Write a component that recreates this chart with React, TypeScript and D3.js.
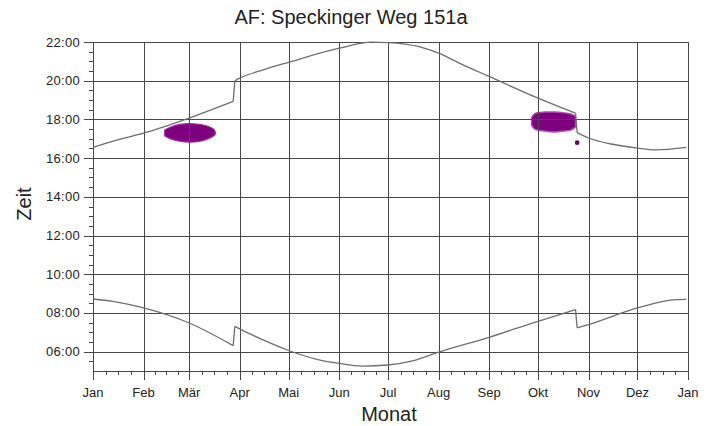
import React from "react";
import * as d3 from "d3";

const W = 713;
const H = 426;

const monthLabels = ["Jan", "Feb", "Mär", "Apr", "Mai", "Jun", "Jul", "Aug", "Sep", "Okt", "Nov", "Dez", "Jan"];
const hourTicks = [6, 8, 10, 12, 14, 16, 18, 20, 22];

// Sunset curve (date, hour)
const sunsetDates = ["2009-01-01", "2009-01-15", "2009-02-01", "2009-03-01", "2009-03-28", "2009-03-29", "2009-04-01", "2009-04-15", "2009-05-01", "2009-06-01", "2009-06-21", "2009-07-01", "2009-07-20", "2009-08-01", "2009-08-15", "2009-09-01", "2009-10-01", "2009-10-24", "2009-10-25", "2009-11-01", "2009-11-15", "2009-12-01", "2009-12-12", "2009-12-31"];
const sunsetHours = [16.56, 16.92, 17.29, 18.07, 18.93, 19.99, 20.13, 20.55, 20.95, 21.68, 21.99, 21.97, 21.76, 21.42, 20.86, 20.22, 19.10, 18.32, 17.32, 17.04, 16.73, 16.52, 16.43, 16.56];

// Sunrise curve (date, hour)
const sunriseDates = ["2009-01-01", "2009-01-13", "2009-02-01", "2009-03-01", "2009-03-28", "2009-03-29", "2009-04-01", "2009-04-15", "2009-05-01", "2009-05-19", "2009-06-01", "2009-06-15", "2009-07-01", "2009-07-16", "2009-08-01", "2009-09-01", "2009-10-01", "2009-10-24", "2009-10-25", "2009-11-01", "2009-12-01", "2009-12-25", "2009-12-31"];
const sunriseHours = [8.72, 8.60, 8.26, 7.48, 6.31, 7.31, 7.18, 6.62, 6.06, 5.59, 5.39, 5.25, 5.31, 5.52, 5.97, 6.74, 7.57, 8.17, 7.23, 7.40, 8.26, 8.69, 8.70];

// Shadow period in Feb/Mar (date, start hour, end hour)
const marDates = ["2009-02-14", "2009-02-18", "2009-02-23", "2009-03-01", "2009-03-07", "2009-03-12", "2009-03-16", "2009-03-17"];
const marStart = [17.14, 16.98, 16.88, 16.83, 16.86, 16.98, 17.14, 17.24];
const marEnd = [17.45, 17.62, 17.74, 17.78, 17.75, 17.66, 17.50, 17.35];

// Shadow period in Sep/Oct
const octDates = ["2009-09-27", "2009-09-29", "2009-10-05", "2009-10-11", "2009-10-17", "2009-10-21", "2009-10-24"];
const octStart = [17.72, 17.50, 17.40, 17.35, 17.40, 17.45, 17.60];
const octEnd = [18.08, 18.30, 18.38, 18.38, 18.34, 18.28, 18.17];

const dotDates = ["2009-10-25"];
const dotHours = [16.8];

const parse = d3.timeParse("%Y-%m-%d");

function segments(pts: [Date, number][]) {
  const segs: [Date, number][][] = [[]];
  const jumps: [[Date, number], [Date, number]][] = [];
  pts.forEach((p, i) => {
    if (i > 0 && p[0].getTime() - pts[i - 1][0].getTime() <= 86400000 * 1.5) {
      jumps.push([pts[i - 1], p]);
      segs.push([]);
    }
    segs[segs.length - 1].push(p);
  });
  return { segs, jumps };
}

export default function App() {
  const x = d3.scaleTime().domain([new Date(2009, 0, 1), new Date(2010, 0, 1)]).range([93, 688]);
  const y = d3.scaleLinear().domain([5, 22]).range([371, 42]);
  const px = (v: number) => Math.round(v) + 0.5;

  const months = d3.timeMonth.range(new Date(2009, 0, 1), new Date(2010, 0, 2));
  const minorX: Date[] = [];
  months.slice(0, 12).forEach((m) => {
    const next = d3.timeMonth.offset(m, 1);
    const span = next.getTime() - m.getTime();
    for (let k = 1; k < 4; k++) minorX.push(new Date(m.getTime() + (span * k) / 4));
  });
  const minorY = d3.range(5.5, 22, 0.5).filter((h) => h % 2 !== 0);

  const line = d3.line<[Date, number]>().x((d) => x(d[0])).y((d) => y(d[1])).curve(d3.curveMonotoneX);
  const straight = d3.line<[Date, number]>().x((d) => x(d[0])).y((d) => y(d[1]));
  const sunset = segments(sunsetDates.map((d, i) => [parse(d)!, sunsetHours[i]] as [Date, number]));
  const sunrise = segments(sunriseDates.map((d, i) => [parse(d)!, sunriseHours[i]] as [Date, number]));

  const area = d3
    .area<[Date, number, number]>()
    .x((d) => x(d[0]))
    .y0((d) => y(d[1]))
    .y1((d) => y(d[2]))
    .curve(d3.curveCatmullRom);
  const mar: [Date, number, number][] = marDates.map((d, i) => [parse(d)!, marStart[i], marEnd[i]]);
  const oct: [Date, number, number][] = octDates.map((d, i) => [parse(d)!, octStart[i], octEnd[i]]);

  const gridColor = "#474747";
  const curveColor = "#6e6e6e";
  const textColor = "#222";
  const font = "'Liberation Sans', Arial, sans-serif";

  return (
    <svg width={W} height={H} style={{ position: "absolute", left: 0, top: 0, background: "#fff" }} fontFamily={font}>
      <rect x={0} y={0} width={W} height={H} fill="#fff" />
      <text x={351} y={24} textAnchor="middle" fontSize={20} fill={textColor}>
        AF: Speckinger Weg 151a
      </text>

      {/* shadow blobs */}
      <path d={area(mar) || ""} fill="#7e007e" stroke="#a52aa5" strokeWidth={1.2} />
      <path d={area(oct) || ""} fill="#7e007e" stroke="#b24ab2" strokeWidth={1.4} />
      {dotDates.map((d, i) => (
        <circle key={i} cx={x(parse(d)!)} cy={y(dotHours[i])} r={2.4} fill="#5e0a5e" />
      ))}

      {/* grid */}
      {hourTicks.map((h) => (
        <line key={"h" + h} x1={93} x2={688} y1={px(y(h))} y2={px(y(h))} stroke={gridColor} strokeWidth={1} />
      ))}
      {months.map((m, i) => (
        <line key={"v" + i} x1={px(x(m))} x2={px(x(m))} y1={42} y2={380} stroke={gridColor} strokeWidth={1} />
      ))}
      {/* axes */}
      <line x1={px(93)} x2={px(93)} y1={42} y2={380} stroke={gridColor} />
      <line x1={93} x2={688} y1={px(371)} y2={px(371)} stroke={gridColor} />
      {hourTicks.map((h) => (
        <line key={"ht" + h} x1={84} x2={93} y1={px(y(h))} y2={px(y(h))} stroke={gridColor} />
      ))}
      {minorY.map((h) => (
        <line key={"my" + h} x1={89} x2={93} y1={px(y(h))} y2={px(y(h))} stroke={gridColor} />
      ))}
      {minorX.map((d, i) => (
        <line key={"mx" + i} x1={px(x(d))} x2={px(x(d))} y1={371} y2={375} stroke={gridColor} />
      ))}

      {/* curves */}
      {[sunset, sunrise].map((c, ci) => (
        <g key={"c" + ci}>
          {c.segs.map((s, si) => (
            <path key={"s" + si} d={line(s) || ""} fill="none" stroke={curveColor} strokeWidth={1.3} />
          ))}
          {c.jumps.map((j, ji) => (
            <path key={"j" + ji} d={straight(j) || ""} fill="none" stroke={curveColor} strokeWidth={1.3} />
          ))}
        </g>
      ))}

      {/* labels */}
      {hourTicks.map((h) => (
        <text key={"yl" + h} x={80} y={y(h) + 4.5} textAnchor="end" fontSize={13} letterSpacing={0.3} fill={textColor}>
          {(h < 10 ? "0" : "") + h + ":00"}
        </text>
      ))}
      {months.map((m, i) => (
        <text key={"xl" + i} x={x(m)} y={397} textAnchor="middle" fontSize={13} fill={textColor}>
          {monthLabels[i]}
        </text>
      ))}
      <text x={389} y={421} textAnchor="middle" fontSize={20} fill={textColor}>
        Monat
      </text>
      <text transform="translate(31,204) rotate(-90)" textAnchor="middle" fontSize={20} fill={textColor}>
        Zeit
      </text>
    </svg>
  );
}
